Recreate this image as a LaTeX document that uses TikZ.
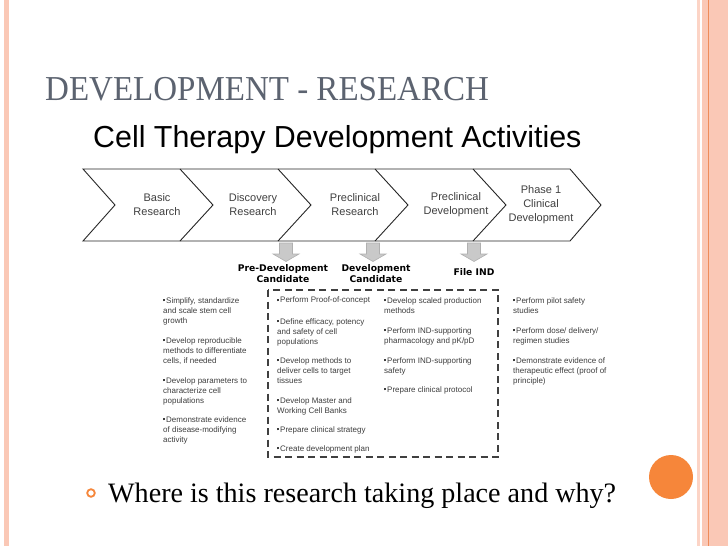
\documentclass[tikz,border=0pt]{standalone}
\usepackage{fontspec}
\setmainfont{Liberation Serif}
\newfontfamily\arialf{Liberation Sans}
\newfontfamily\verdf{DejaVu Sans}
\definecolor{titlegray}{RGB}{92,99,112}
\definecolor{pinkA}{RGB}{250,200,182}
\definecolor{pinkB}{RGB}{252,212,198}
\definecolor{orangeA}{RGB}{246,134,58}
\definecolor{orangeL}{RGB}{238,140,90}
\definecolor{coltext}{RGB}{62,62,62}
\newcommand\sqbul{\rule[1.7pt]{2.2pt}{2.2pt}\kern0.8pt}
\begin{document}
\begin{tikzpicture}[x=1pt,y=-1pt,
  chevlabel/.style={font=\arialf\fontsize{11}{14}\selectfont, text=black!75, align=center, inner sep=0pt},
  cand/.style={font=\verdf\bfseries\fontsize{9.2}{11}\selectfont, align=center, inner sep=0pt},
  item/.style={font=\arialf\fontsize{8}{10}\selectfont, text=coltext, align=left, anchor=north west, inner sep=0pt},
  garrow/.style={fill=gray!42, draw=gray!62, line width=0.6pt},
  chevline/.style={draw=black!85, line width=0.9pt, line join=miter},
  dashbox/.style={draw=black!75, line width=1.3pt, dash pattern=on 7pt off 4.5pt}]
\useasboundingbox (0,0) rectangle (728,546);
\fill[white] (0,0) rectangle (728,546);
% borders
\fill[pinkA] (4,0) rectangle (9,546);
\fill[pinkB] (697,0) rectangle (699.5,546);
\fill[pinkA] (702,0) rectangle (707.5,546);
\fill[orangeL] (707.5,0) rectangle (709,546);
\fill[pinkA] (709,0) rectangle (728,546);
% titles
\node[anchor=base west, inner sep=0pt, text=titlegray, font=\fontsize{33}{36}\selectfont, yscale=1.06] (title) at (45,100) {DEVELOPMENT - RESEARCH};
\node[anchor=base west, inner sep=0pt, font=\arialf\fontsize{30.4}{34}\selectfont] (sub) at (93,147) {Cell Therapy Development Activities};
% chevrons
\draw[chevline] (83,169) -- (570,169) -- (601,205) -- (570,241) -- (83,241) -- (115,205) -- cycle;
\foreach \b in {180,278,375,473}{
  \draw[chevline] (\b,169) -- (\b+33,205) -- (\b,241);
}
\node[chevlabel] (c1) at (157,205) {Basic\\Research};
\node[chevlabel] (c2) at (253,205) {Discovery\\Research};
\node[chevlabel] (c3) at (355,205) {Preclinical\\Research};
\node[chevlabel] (c4) at (456,205) {Preclinical\\Development};
\node[chevlabel] (c5) at (541,205) {Phase 1\\Clinical\\Development};
% gray arrows
\foreach \c in {286,373,474}{
  \draw[garrow] (\c-6.5,243) -- (\c+6.5,243) -- (\c+6.5,254) -- (\c+13,254) -- (\c,261.5) -- (\c-13,254) -- (\c-6.5,254) -- cycle;
}
\node[cand] (pdc) at (283,274) {Pre-Development\\Candidate};
\node[cand] (dc) at (376,274) {Development\\Candidate};
\node[cand] (ind) at (474,272) {File IND};
% dashed box
\draw[dashbox] (268,290) rectangle (498,457);
% column 1
\node[item] (a1) at (163,297) {\sqbul Simplify, standardize\\and scale stem cell\\growth};
\node[item] (a2) at (163,337) {\sqbul Develop reproducible\\methods to differentiate\\cells, if needed};
\node[item] (a3) at (163,377) {\sqbul Develop parameters to\\characterize cell\\populations};
\node[item] (a4) at (163,416) {\sqbul Demonstrate evidence\\of disease-modifying\\activity};
% column 2
\node[item] (b1) at (277,297) {\sqbul Perform Proof-of-concept};
\node[item] (b2) at (277,318) {\sqbul Define efficacy, potency\\and safety of cell\\populations};
\node[item] (b3) at (277,357) {\sqbul Develop methods to\\deliver cells to target\\tissues};
\node[item] (b4) at (277,397) {\sqbul Develop Master and\\Working Cell Banks};
\node[item] (b5) at (277,426) {\sqbul Prepare clinical strategy};
\node[item] (b6) at (277,445) {\sqbul Create development plan};
% column 3
\node[item] (d1) at (384,297) {\sqbul Develop scaled production\\methods};
\node[item] (d2) at (384,327) {\sqbul Perform IND-supporting\\pharmacology and pK/pD};
\node[item] (d3) at (384,357) {\sqbul Perform IND-supporting\\safety};
\node[item] (d4) at (384,386) {\sqbul Prepare clinical protocol};
% column 4
\node[item] (e1) at (513,297) {\sqbul Perform pilot safety\\studies};
\node[item] (e2) at (513,327) {\sqbul Perform dose/ delivery/\\regimen studies};
\node[item] (e3) at (513,357) {\sqbul Demonstrate evidence of\\therapeutic effect (proof of\\principle)};
% bottom
\draw[orangeA, line width=1.8pt] (91,493) circle (3.8);
\node[anchor=base west, inner sep=0pt, font=\fontsize{28.1}{32}\selectfont] (q) at (108,502) {Where is this research taking place and why?};
\fill[orangeA] (671,477) circle (22);
\end{tikzpicture}
\end{document}
